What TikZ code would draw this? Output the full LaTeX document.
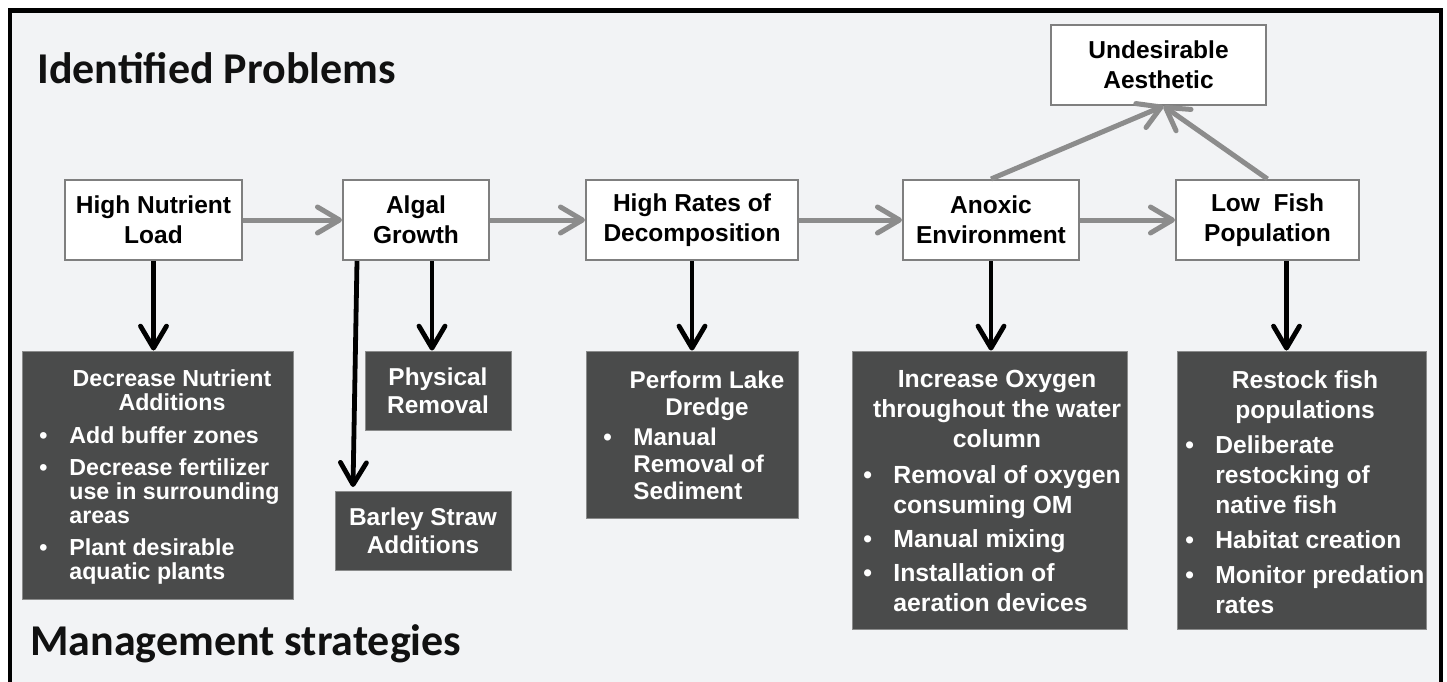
\documentclass[tikz,border=0pt]{standalone}
\usepackage{fontspec}
\setmainfont{Liberation Sans}
\newfontfamily\calfont{Carlito}
\usetikzlibrary{arrows.meta,calc}
\definecolor{bg}{HTML}{F2F3F5}
\definecolor{darkbox}{HTML}{4A4B4B}
\definecolor{darkedge}{HTML}{8A8B8B}
\definecolor{boxline}{HTML}{7F7F7F}
\definecolor{garrow}{HTML}{8C8C8C}
\definecolor{titlec}{HTML}{111111}
\newlength\bind
\setlength\bind{15pt}
\newcommand\bul{\makebox[\bind][l]{\textbullet}}
\newcommand\ind{\hspace*{\bind}}
\tikzset{
  prob/.style={draw=boxline, line width=1pt, fill=white, inner sep=0pt, align=center,
    font=\bfseries\fontsize{12.25pt}{15pt}\selectfont},
  dark/.style={fill=darkbox, draw=darkedge, line width=0.5pt, inner sep=0pt, text=white, align=center},
  ttl/.style={anchor=north, inner sep=0pt, text=white, align=center},
  lst/.style={anchor=north west, inner sep=0pt, text=white, align=left},
  garr/.style={draw=garrow, line width=2.5pt, -{Straight Barb[length=11pt,width=13pt,round]}},
  barr/.style={draw=black, line width=2.4pt, -{Straight Barb[length=11pt,width=13pt,round]}},
  head/.style={anchor=base west, inner sep=0pt, text=titlec,
    font=\calfont\bfseries\fontsize{22pt}{26pt}\selectfont},
}
\begin{document}
\begin{tikzpicture}[x=0.5pt, y=-0.5pt]
\useasboundingbox (0,0) rectangle (1447,681);
\fill[white] (0,0) rectangle (1447,681);
\begin{scope}
  \clip (0,0) rectangle (1447,681);
  \draw[line width=2.25pt, fill=bg] (10,10.3) rectangle (1441,720);
\end{scope}

% headings
\node[head] (h1) at (37,83) {Identified Problems};
\node[head] (h2) at (30,655) {Management strategies};

% problem boxes
\node[prob, minimum width=88.5pt, minimum height=40pt] (hn) at (153.5,220) {High Nutrient\\Load};
\node[prob, minimum width=73pt, minimum height=40pt] (al) at (416,220) {Algal\\Growth};
\node[prob, minimum width=106pt, minimum height=40pt] (de) at (692,220) {High Rates of\\Decomposition};
\node[prob, minimum width=88pt, minimum height=40pt] (an) at (991,220) {Anoxic\\Environment};
\node[prob, minimum width=91.5pt, minimum height=40pt] (lf) at (1267.5,220) {Low\ \ Fish\\Population};
\node[prob, minimum width=107.5pt, minimum height=40pt] (ua) at (1158.5,65) {Undesirable\\Aesthetic};

% strategy boxes
\node[dark, minimum width=135.5pt, minimum height=124pt] (dn) at (157.5,475) {};
\node[dark, minimum width=73pt, minimum height=39.5pt,
  font=\bfseries\fontsize{12.2pt}{14pt}\selectfont] (pr) at (438,390.5) {Physical\\Removal};
\node[dark, minimum width=88pt, minimum height=39.5pt,
  font=\bfseries\fontsize{12.2pt}{14pt}\selectfont] (bs) at (423,530.5) {Barley Straw\\Additions};
\node[dark, minimum width=106pt, minimum height=83.5pt] (ld) at (692,434.5) {};
\node[dark, minimum width=137.5pt, minimum height=139pt] (io) at (989.5,490) {};
\node[dark, minimum width=124.5pt, minimum height=139pt] (rf) at (1301.5,490) {};

% strategy texts
\node[ttl, font=\bfseries\fontsize{11.6pt}{12pt}\selectfont] (dnt) at (172,369) {Decrease Nutrient\\Additions};
\node[lst, font=\bfseries\fontsize{11.6pt}{12pt}\selectfont] (dnl) at (39,426)
  {\bul Add buffer zones\\[4pt]
   \bul Decrease fertilizer\\ \ind use in surrounding\\ \ind areas\\[4pt]
   \bul Plant desirable\\ \ind aquatic plants};

\node[ttl, font=\bfseries\fontsize{12.1pt}{13.3pt}\selectfont] (ldt) at (707,371) {Perform Lake\\Dredge};
\node[lst, font=\bfseries\fontsize{12.1pt}{13.3pt}\selectfont] (ldl) at (603,428)
  {\bul Manual\\ \ind Removal of\\ \ind Sediment};

\node[ttl, font=\bfseries\fontsize{12.4pt}{15pt}\selectfont] (iot) at (997,370) {Increase Oxygen\\throughout the water\\column};
\node[lst, font=\bfseries\fontsize{12.4pt}{15pt}\selectfont] (iol) at (863,465)
  {\bul Removal of oxygen\\ \ind consuming OM\\[2pt]
   \bul Manual mixing\\[2pt]
   \bul Installation of\\ \ind aeration devices};

\node[ttl, font=\bfseries\fontsize{12.3pt}{15pt}\selectfont] (rft) at (1305,370) {Restock fish\\populations};
\node[lst, font=\bfseries\fontsize{12.3pt}{15pt}\selectfont] (rfl) at (1185,435)
  {\bul Deliberate\\ \ind restocking of\\ \ind native fish\\[2.5pt]
   \bul Habitat creation\\[2.5pt]
   \bul Monitor predation\\ \ind rates};

% gray arrows
\draw[garr] (hn.east) -- (al.west);
\draw[garr] (al.east) -- (de.west);
\draw[garr] (de.east) -- (an.west);
\draw[garr] (an.east) -- (lf.west);
\coordinate (uat) at ($(ua.south)+(5,0)$);
\draw[garr] (an.north) -- (uat);
\draw[garr] (lf.north) -- (uat);

% black arrows
\draw[barr] (hn.south) -- (hn.south |- dn.north);
\coordinate (als) at ($(al.south)+(16,0)$);
\draw[barr] (als) -- (als |- pr.north);
\coordinate (bsa) at (353,487);
\draw[barr] ($(al.south)+(-59,0)$) -- (bsa);
\draw[barr] (de.south) -- (de.south |- ld.north);
\draw[barr] (an.south) -- (an.south |- io.north);
\coordinate (lfs) at ($(lf.south)+(19,0)$);
\draw[barr] (lfs) -- (lfs |- rf.north);
\end{tikzpicture}
\end{document}
